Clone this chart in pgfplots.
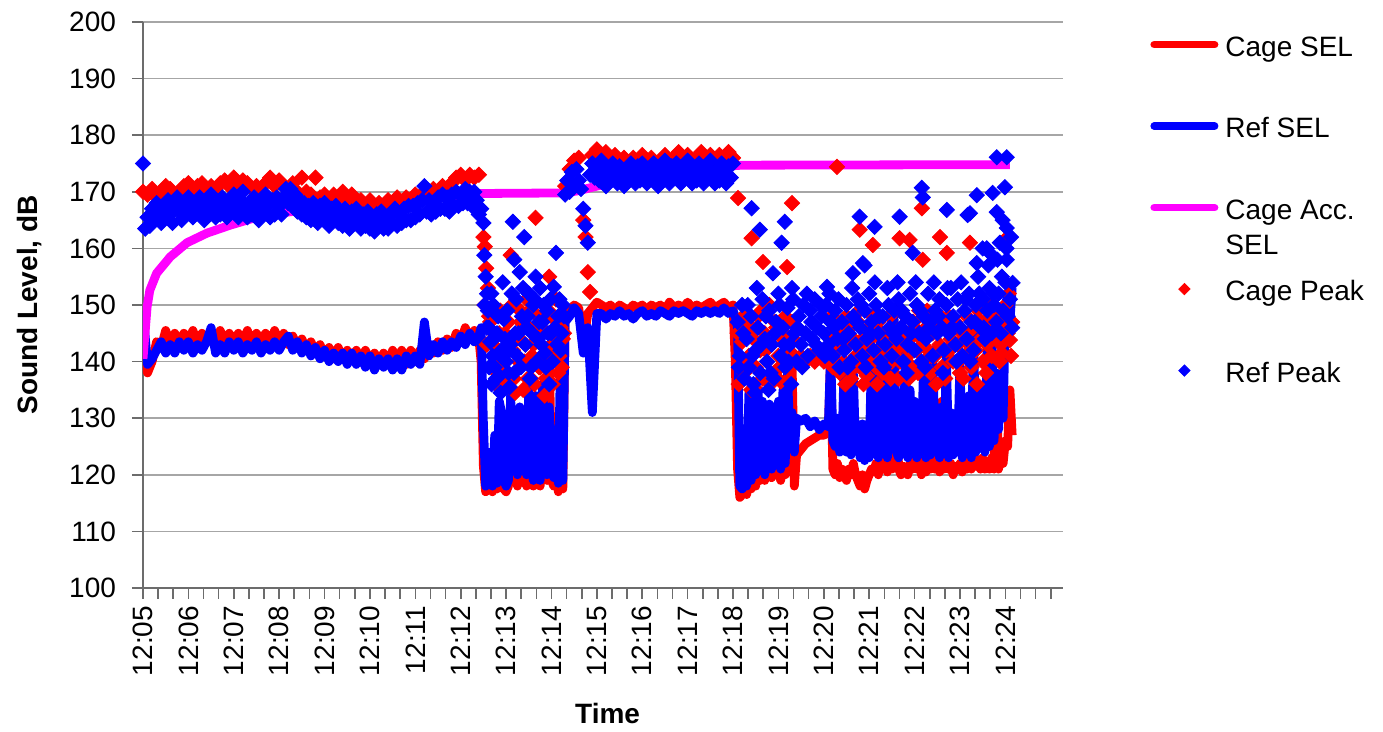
\documentclass[border=0pt]{standalone}
\usepackage{fontspec}
\setmainfont{Liberation Sans}
\usepackage{pgfplots}
\usepackage{pgfplotstable}
\pgfplotsset{compat=1.18}
\definecolor{selred}{RGB}{255,0,0}
\definecolor{selblue}{RGB}{0,0,255}
\definecolor{selmag}{RGB}{255,0,255}

% SEL lines: t = minutes after 12:05
\pgfplotstableread{
t cs rs
0.0 141.0 149.0
0.1 138.0 139.5
0.2 140.0 140.5
0.3 143.5 142.0
0.4 142.5 143.5
0.5 145.5 141.5
0.6 143.0 143.0
0.7 145.0 141.5
0.8 143.0 143.5
0.9 145.0 142.0
1.0 143.5 143.5
1.1 145.5 141.5
1.2 143.0 143.0
1.3 145.0 142.0
1.4 143.5 143.5
1.5 145.0 146.0
1.6 143.0 141.5
1.7 145.5 143.0
1.8 143.5 141.5
1.9 145.0 143.5
2.0 143.0 142.0
2.1 145.0 143.5
2.2 143.5 141.5
2.3 145.5 143.0
2.4 143.0 142.0
2.5 145.0 143.5
2.6 143.5 141.5
2.7 145.0 143.0
2.8 143.0 142.0
2.9 145.5 143.5
3.0 143.5 142.0
3.1 145.0 143.5
3.2 143.0 144.5
3.3 144.5 142.0
3.4 142.5 143.5
3.5 144.0 141.5
3.6 142.0 143.0
3.7 143.5 141.0
3.8 141.5 142.5
3.9 143.0 140.5
4.0 141.0 142.0
4.1 142.5 140.0
4.2 140.5 141.5
4.3 142.5 140.0
4.4 140.5 141.5
4.5 142.0 139.5
4.6 140.5 141.5
4.7 142.0 139.5
4.8 140.0 141.0
4.9 142.0 139.0
5.0 140.0 141.0
5.1 141.5 138.5
5.2 139.5 140.5
5.3 141.5 139.0
5.4 139.5 140.5
5.5 142.0 138.5
5.6 140.0 140.5
5.7 142.0 138.5
5.8 139.5 141.0
5.9 142.0 139.5
6.0 140.0 141.0
6.1 142.0 139.5
6.2 140.5 147.0
6.3 143.0 141.0
6.4 141.5 143.0
6.5 143.5 141.5
6.6 142.0 143.5
6.7 144.0 142.0
6.8 142.5 143.5
6.9 145.0 142.5
7.0 143.5 144.5
7.1 146.0 143.0
7.2 144.0 145.0
7.3 145.5 143.5
7.4 144.0 144.5
7.45 140.0 146.0
7.50 121.5 129.0
7.55 117.0 118.0
7.60 117.5 118.5
7.65 118.0 124.0
7.70 117.0 118.0
7.75 119.0 127.0
7.80 117.5 118.5
7.85 122.0 133.0
7.90 120.0 131.0
7.95 117.5 119.0
8.00 117.0 118.0
8.05 118.0 119.0
8.10 123.0 134.0
8.15 120.0 121.0
8.20 121.0 130.0
8.25 118.0 120.0
8.30 125.0 132.0
8.35 119.0 121.0
8.40 122.0 131.0
8.45 118.0 120.0
8.50 126.0 135.0
8.55 120.0 122.0
8.60 118.0 119.0
8.65 124.0 134.0
8.70 121.0 124.0
8.75 118.0 119.0
8.80 128.0 136.0
8.85 122.0 126.0
8.90 119.0 120.0
8.95 143.0 132.0
9.00 119.0 121.0
9.05 118.0 119.5
9.10 126.0 128.0
9.15 117.0 118.5
9.20 119.0 141.0
9.25 117.5 119.0
9.30 147.5 147.0
9.40 149.0 148.0
9.50 150.0 149.5
9.60 149.5 148.5
9.70 143.0 141.5
9.80 148.5 146.0
9.90 149.5 131.0
10.00 150.5 148.5
10.10 150.0 148.5
10.20 149.5 147.5
10.30 150.0 148.5
10.40 149.0 148.0
10.50 150.0 149.0
10.60 149.5 148.0
10.70 149.0 148.5
10.80 150.0 147.5
10.90 149.5 148.5
11.00 150.0 149.0
11.10 149.0 148.0
11.20 150.0 148.5
11.30 149.5 148.0
11.40 150.0 149.0
11.50 149.0 148.5
11.60 150.5 148.0
11.70 149.5 149.0
11.80 150.0 148.5
11.90 149.5 149.0
12.00 150.5 148.5
12.10 149.5 148.0
12.20 150.0 149.0
12.30 149.5 148.5
12.40 150.0 149.0
12.50 150.5 148.5
12.60 149.5 149.0
12.70 150.0 148.5
12.80 150.5 149.5
12.90 149.5 148.5
13.00 150.0 149.0
13.05 140.0 148.0
13.10 121.0 146.0
13.15 116.0 118.0
13.20 116.5 117.5
13.25 119.0 127.0
13.30 116.5 118.0
13.35 122.0 134.5
13.40 117.5 119.0
13.45 121.0 134.0
13.50 118.0 120.0
13.55 123.0 135.0
13.60 119.0 121.0
13.65 124.0 133.0
13.70 119.0 120.0
13.75 121.0 128.0
13.80 120.0 132.5
13.85 119.5 121.0
13.90 122.0 132.0
13.95 120.0 122.0
14.00 121.0 133.0
14.05 119.0 121.0
14.10 124.0 135.0
14.15 120.0 122.0
14.20 131.0 138.0
14.25 122.0 127.0
14.30 140.0 131.0
14.35 118.0 124.0
14.40 123.5 130.0
14.50 124.5 129.5
14.60 125.5 130.0
14.70 126.0 128.5
14.80 126.5 129.5
14.90 127.0 128.0
15.00 127.0 129.0
15.10 127.5 128.5
15.15 141.0 142.0
15.20 121.0 126.0
15.25 120.0 125.0
15.30 122.0 130.0
15.35 119.5 124.0
15.40 121.0 125.0
15.45 120.0 140.0
15.50 119.0 124.0
15.55 121.0 126.0
15.60 120.0 123.5
15.65 122.0 138.0
15.70 120.0 124.5
15.75 119.0 128.0
15.80 118.0 123.0
15.85 120.0 129.0
15.90 117.5 122.5
15.95 119.0 127.0
16.00 120.0 123.0
16.05 121.0 141.0
16.10 120.5 124.0
16.15 122.0 132.0
16.20 120.0 123.0
16.25 123.0 145.0
16.30 121.0 124.0
16.35 122.0 134.0
16.40 120.5 123.0
16.45 124.0 144.0
16.50 121.0 125.0
16.55 122.0 147.5
16.60 130.0 124.0
16.65 121.0 123.0
16.70 120.0 130.0
16.75 121.5 124.0
16.80 121.0 143.0
16.85 120.0 123.0
16.90 122.0 135.0
16.95 121.0 124.0
17.00 123.0 133.0
17.05 121.0 123.0
17.10 128.0 131.0
17.15 120.0 124.0
17.20 121.0 140.0
17.25 120.5 123.0
17.30 122.0 129.0
17.35 121.0 123.5
17.40 123.0 142.0
17.45 121.0 124.0
17.50 122.0 130.0
17.55 120.5 123.0
17.60 133.0 132.0
17.65 121.0 124.0
17.70 123.0 141.0
17.75 121.0 123.0
17.80 122.0 131.0
17.85 120.0 123.5
17.90 121.5 129.0
17.95 121.0 124.0
18.00 122.0 140.0
18.05 120.5 123.0
18.10 122.0 131.0
18.15 121.0 124.0
18.20 131.0 134.0
18.25 121.0 123.0
18.30 124.0 145.0
18.35 121.5 124.0
18.40 122.0 135.0
18.45 121.0 125.0
18.50 123.0 134.0
18.55 121.0 124.0
18.60 122.0 143.0
18.65 121.0 125.0
18.70 123.0 147.0
18.75 121.0 126.0
18.80 138.0 138.0
18.85 121.0 128.0
18.90 124.0 136.0
18.95 122.0 130.0
19.00 126.0 148.0
19.05 125.0 152.0
19.10 135.0 147.0
19.15 127.0 153.0
}\sellines

% accumulated cage SEL
\pgfplotstableread{
t v
0.00 140.5
0.09 149.6
0.15 152.6
0.30 155.6
0.60 158.5
0.97 161.0
1.41 162.7
1.92 164.1
2.42 165.3
3.02 166.2
3.52 166.8
4.00 167.2
5.00 167.9
5.50 168.3
6.00 168.6
7.00 169.3
7.45 169.7
9.30 169.8
9.60 170.2
10.00 171.0
10.50 171.9
11.00 172.6
11.50 173.3
12.00 173.8
12.50 174.3
13.00 174.6
13.20 174.7
19.10 174.8
}\accsel

% cage peak
\pgfplotstableread{
t v
0.0 170.0
0.1 169.5
0.2 170.5
0.3 169.0
0.4 170.0
0.5 171.0
0.6 170.5
0.7 169.5
0.8 170.0
0.9 171.0
1.0 171.5
1.1 170.5
1.2 171.0
1.3 171.5
1.4 170.0
1.5 171.0
1.6 170.5
1.7 171.5
1.8 172.0
1.9 171.0
2.0 172.5
2.1 171.0
2.2 172.0
2.3 171.5
2.4 170.5
2.5 171.0
2.6 170.0
2.7 171.5
2.8 172.5
2.9 171.0
3.0 172.0
3.1 171.0
3.2 170.5
3.3 171.5
3.4 170.0
3.5 172.5
3.6 170.0
3.7 169.5
3.8 172.5
3.9 169.0
4.0 169.5
4.1 168.5
4.2 169.5
4.3 169.0
4.4 170.0
4.5 168.5
4.6 169.5
4.7 168.0
4.8 168.5
4.9 167.5
5.0 168.5
5.1 167.5
5.2 168.0
5.3 167.5
5.4 168.5
5.5 168.0
5.6 169.0
5.7 168.0
5.8 169.0
5.9 168.5
6.0 169.5
6.1 169.0
6.2 170.0
6.3 169.5
6.4 170.5
6.5 170.0
6.6 171.0
6.7 170.5
6.8 171.5
6.9 172.5
7.0 173.0
7.1 172.0
7.2 173.0
7.3 172.5
7.4 173.0
7.50 162.0
7.53 160.3
7.56 156.5
7.60 153.0
7.65 147.0
7.70 143.0
7.75 149.0
7.80 140.0
7.85 145.0
7.90 136.0
7.95 141.0
8.00 138.0
8.05 147.0
8.10 158.8
8.15 142.0
8.20 134.5
8.25 149.5
8.30 144.0
8.40 140.0
8.45 151.0
8.50 146.0
8.55 137.0
8.60 143.0
8.65 165.4
8.70 148.0
8.75 139.0
8.80 145.5
8.85 134.0
8.90 141.0
8.95 155.0
9.00 148.5
9.05 142.0
9.10 151.0
9.15 138.0
9.20 146.0
9.25 144.0
7.525 150.0
7.575 143.0
7.625 148.0
7.675 139.0
7.725 145.0
7.775 136.0
7.825 142.0
7.875 149.0
7.925 139.0
7.975 145.0
8.025 136.0
8.075 143.0
8.125 150.0
8.175 137.0
8.225 144.0
8.275 140.0
8.325 147.0
8.375 135.0
8.425 143.0
8.475 137.0
8.525 149.0
8.575 141.0
8.625 136.0
8.675 144.0
8.725 139.0
8.775 146.0
8.825 140.0
8.875 137.0
8.925 148.0
8.975 141.0
9.025 136.0
9.075 144.0
9.125 147.0
9.175 141.0
9.225 139.0
9.275 145.0
9.30 171.0
9.40 174.0
9.50 175.5
9.60 176.0
9.70 165.0
9.75 162.0
9.80 155.8
9.85 152.3
9.90 176.5
10.0 177.5
10.1 176.0
10.2 177.0
10.3 175.5
10.4 176.5
10.5 175.0
10.6 176.0
10.7 174.5
10.8 176.0
10.9 175.0
11.0 176.5
11.1 175.0
11.2 176.0
11.3 174.5
11.4 175.5
11.5 176.5
11.6 175.0
11.7 176.0
11.8 177.0
11.9 175.5
12.0 176.5
12.1 175.0
12.2 176.0
12.3 177.0
12.4 175.5
12.5 176.5
12.6 175.0
12.7 176.5
12.8 175.5
12.9 177.0
13.0 176.0
13.10 145.0
13.15 140.0
13.20 143.5
13.25 138.0
13.30 146.0
13.35 141.0
13.40 135.0
13.45 144.0
13.50 139.0
13.55 148.0
13.60 142.0
13.65 137.0
13.70 145.0
13.75 140.0
13.80 150.0
13.85 143.0
13.90 138.0
13.95 146.0
14.00 141.0
14.05 136.5
14.10 144.0
14.15 148.0
14.20 142.0
14.25 139.0
14.30 147.0
14.35 141.0
14.40 140.5
14.45 140.5
14.50 141.0
14.55 140.5
14.60 140.0
14.65 140.5
14.70 141.0
14.75 140.5
14.80 140.0
14.85 140.5
14.90 141.0
14.95 140.5
15.00 140.0
15.05 140.5
15.10 141.0
15.15 144.0
15.20 139.0
15.25 146.0
15.30 142.0
15.35 138.0
15.40 145.0
15.45 140.0
15.50 148.0
15.55 143.0
15.60 137.0
15.65 144.0
15.70 141.0
15.75 147.0
15.80 139.0
15.85 144.0
15.90 142.0
15.95 137.5
16.00 146.0
16.05 141.0
16.10 144.5
16.15 139.0
16.20 147.0
16.25 142.0
16.30 138.0
16.35 145.0
16.40 143.0
16.45 148.0
16.50 140.0
16.55 145.0
16.60 142.0
16.65 137.0
16.70 146.0
16.75 143.0
16.80 148.0
16.85 141.0
16.90 144.0
16.95 139.0
17.00 146.0
17.05 142.0
17.10 149.0
17.15 144.0
17.20 140.0
17.25 146.0
17.30 142.0
17.35 138.0
17.40 145.0
17.45 141.0
17.50 147.0
17.55 143.0
17.60 139.0
17.65 146.0
17.70 142.0
17.75 148.0
17.80 144.0
17.85 140.0
17.90 147.0
17.95 143.0
18.00 138.0
18.05 145.0
18.10 141.0
18.15 148.0
18.20 143.0
18.25 139.0
18.30 146.0
18.35 142.0
18.40 149.0
18.45 144.0
18.50 140.0
18.55 147.0
18.60 143.0
18.65 146.0
18.70 141.0
18.75 148.0
18.80 144.0
18.85 149.0
18.90 143.0
18.95 146.0
19.00 150.0
19.05 145.0
19.10 143.8
19.15 147.0
13.125 136.0
13.225 148.0
13.325 139.0
13.425 146.0
13.525 135.0
13.625 149.0
13.725 142.0
13.825 136.0
13.925 147.0
14.025 139.0
14.125 145.0
14.225 137.0
14.325 144.0
15.175 148.0
15.275 140.0
15.375 143.0
15.475 136.0
15.575 146.0
15.675 139.0
15.775 149.0
15.875 136.0
15.975 143.0
16.075 148.0
16.175 136.0
16.275 145.0
16.375 140.0
16.475 137.0
16.575 149.0
16.675 140.0
16.775 145.0
16.875 137.0
16.975 147.0
17.075 138.0
17.175 143.0
17.275 149.0
17.375 141.0
17.475 136.0
17.575 148.0
17.675 137.0
17.775 142.0
17.875 146.0
17.975 140.0
18.075 137.0
18.175 145.0
18.275 142.0
18.375 136.0
18.475 147.0
18.575 138.0
18.675 150.0
18.775 146.0
18.875 140.0
18.975 148.0
19.075 152.0
19.125 141.0
13.11 168.9
14.30 168.0
13.41 161.8
13.66 157.6
14.19 156.7
15.29 174.4
15.79 163.3
16.08 160.6
16.67 161.8
16.89 161.5
17.16 167.1
17.56 162.0
17.71 159.2
17.18 158.0
18.22 161.0
19.03 161.8
18.92 141.5
}\cagepeak

% ref peak
\pgfplotstableread{
t v
0.00 175.0
0.05 163.5
0.10 165.5
0.15 164.0
0.20 167.0
0.25 165.0
0.30 168.0
0.35 166.0
0.40 164.5
0.45 167.5
0.50 165.5
0.55 168.5
0.60 166.0
0.65 164.5
0.70 167.0
0.75 169.0
0.80 166.5
0.85 165.0
0.90 168.0
0.95 166.0
1.00 169.0
1.05 167.0
1.10 165.5
1.15 168.0
1.20 166.5
1.25 169.0
1.30 167.0
1.35 165.0
1.40 168.5
1.45 166.5
1.50 169.5
1.55 167.5
1.60 165.5
1.65 168.0
1.70 166.0
1.75 169.0
1.80 167.0
1.85 165.5
1.90 168.5
1.95 166.5
2.00 169.5
2.05 167.5
2.10 165.5
2.15 168.5
2.20 170.0
2.25 167.0
2.30 165.5
2.35 168.0
2.40 166.0
2.45 169.0
2.50 167.0
2.55 165.0
2.60 168.0
2.65 166.5
2.70 169.5
2.75 167.5
2.80 165.5
2.85 168.5
2.90 166.0
2.95 169.0
3.00 167.5
3.05 166.0
3.10 169.0
3.15 170.5
3.20 168.0
3.25 170.5
3.30 167.5
3.35 169.5
3.40 166.5
3.45 168.5
3.50 166.0
3.55 168.0
3.60 165.5
3.65 167.5
3.70 165.0
3.75 168.0
3.80 166.0
3.85 164.5
3.90 167.5
3.95 165.5
4.00 168.0
4.05 166.0
4.10 164.0
4.15 167.0
4.20 165.0
4.25 167.5
4.30 164.5
4.35 166.5
4.40 164.0
4.45 167.0
4.50 165.0
4.55 163.5
4.60 166.5
4.65 164.5
4.70 167.0
4.75 165.0
4.80 163.5
4.85 166.0
4.90 164.0
4.95 166.5
5.00 163.5
5.05 165.5
5.10 163.0
5.15 166.0
5.20 164.0
5.25 166.5
5.30 163.5
5.35 165.5
5.40 163.5
5.45 166.0
5.50 164.5
5.55 167.0
5.60 164.0
5.65 166.0
5.70 164.5
5.75 167.0
5.80 165.0
5.85 167.5
5.90 165.0
5.95 167.5
6.00 165.5
6.05 168.0
6.10 166.0
6.15 168.5
6.20 171.0
6.25 166.5
6.30 168.5
6.35 166.0
6.40 168.0
6.45 166.5
6.50 169.0
6.55 167.0
6.60 169.5
6.65 167.0
6.70 169.0
6.75 166.5
6.80 169.5
6.85 167.5
6.90 170.0
6.95 167.5
7.00 169.5
7.05 168.0
7.10 170.5
7.15 168.0
7.20 170.0
7.25 167.5
7.30 170.0
7.35 168.5
7.40 166.0
7.45 167.0
7.50 164.5
7.52 158.8
7.55 155.0
7.58 152.0
7.60 149.0
7.62 146.0
7.65 143.5
7.68 136.0
7.70 141.0
7.72 150.0
7.75 139.0
7.80 145.0
7.85 137.5
7.88 134.5
7.90 142.0
7.95 147.5
8.00 140.0
8.05 138.0
8.08 135.5
8.10 143.0
8.15 164.7
8.18 158.0
8.20 145.0
8.25 141.0
8.30 155.8
8.35 148.0
8.40 162.0
8.45 146.0
8.50 152.0
8.55 139.0
8.60 150.0
8.65 155.0
8.70 144.0
8.75 153.0
8.80 147.0
8.85 141.5
8.90 149.0
8.95 136.0
9.00 145.0
9.05 153.2
9.10 159.2
9.15 148.0
9.20 142.0
9.25 150.0
7.525 150.0
7.575 146.0
7.625 139.0
7.675 152.0
7.725 144.0
7.775 137.0
7.825 148.0
7.875 141.0
7.925 154.0
7.975 144.0
8.025 149.0
8.075 142.0
8.125 152.0
8.175 138.0
8.225 151.0
8.275 145.0
8.325 139.0
8.375 153.0
8.425 143.0
8.475 148.0
8.525 137.0
8.575 145.0
8.625 151.0
8.675 140.0
8.725 147.0
8.775 143.0
8.825 150.0
8.875 139.0
8.925 145.0
8.975 151.0
9.025 140.0
9.075 146.0
9.125 143.0
9.175 151.0
9.225 145.0
9.275 148.0
9.30 169.5
9.35 172.0
9.40 170.0
9.45 173.5
9.50 171.0
9.55 174.0
9.60 172.0
9.65 170.5
9.70 167.0
9.75 164.0
9.80 161.0
9.85 173.0
9.90 175.0
9.95 172.5
10.00 174.5
10.05 172.0
10.10 175.5
10.15 173.0
10.20 171.0
10.25 174.0
10.30 172.0
10.35 175.0
10.40 173.0
10.45 171.5
10.50 174.5
10.55 172.5
10.60 171.0
10.65 174.0
10.70 172.0
10.75 175.0
10.80 173.0
10.85 171.5
10.90 174.5
10.95 172.0
11.00 175.0
11.05 173.0
11.10 171.5
11.15 174.0
11.20 172.5
11.25 175.0
11.30 173.0
11.35 171.0
11.40 174.0
11.45 172.0
11.50 175.5
11.55 173.0
11.60 171.5
11.65 174.5
11.70 172.5
11.75 175.0
11.80 173.0
11.85 171.5
11.90 174.5
11.95 172.5
12.00 175.5
12.05 173.0
12.10 171.5
12.15 174.0
12.20 172.0
12.25 175.0
12.30 173.5
12.35 171.5
12.40 174.5
12.45 172.5
12.50 175.5
12.55 173.0
12.60 171.5
12.65 174.0
12.70 172.0
12.75 175.0
12.80 173.0
12.85 171.5
12.90 174.5
12.95 172.5
13.00 175.0
13.10 147.0
13.15 141.0
13.20 150.0
13.25 137.0
13.30 144.0
13.35 139.0
13.40 148.0
13.45 136.0
13.48 134.5
13.50 142.0
13.55 146.0
13.60 138.0
13.65 151.0
13.70 144.0
13.75 140.0
13.78 135.0
13.80 149.0
13.85 143.0
13.90 137.0
13.95 147.0
14.00 152.0
14.05 141.0
14.10 146.0
14.15 139.0
14.20 149.5
14.25 143.0
14.28 136.0
14.30 153.0
14.35 145.0
14.40 140.0
14.45 148.0
14.50 143.0
14.55 150.0
14.60 145.0
14.65 141.0
14.70 149.0
14.75 144.0
14.80 151.0
14.85 146.0
14.90 142.0
14.95 148.0
15.00 145.0
15.05 150.0
15.10 143.0
15.15 147.0
15.20 141.0
15.25 149.0
15.30 144.0
15.35 139.0
15.40 147.0
15.45 142.0
15.50 150.0
15.55 145.0
15.60 140.0
15.65 148.0
15.70 143.0
15.75 151.0
15.80 146.0
15.85 141.0
15.90 149.0
15.95 144.0
16.00 152.0
16.05 147.0
16.10 142.0
16.15 150.0
16.20 145.0
16.25 140.0
16.30 148.0
16.35 143.0
16.40 153.0
16.45 146.0
16.50 141.0
16.55 149.0
16.60 144.0
16.65 151.0
16.70 146.0
16.75 140.0
16.80 148.0
16.85 143.0
16.90 152.0
16.95 147.0
17.00 142.0
17.05 150.0
17.10 145.0
17.15 140.0
17.20 148.0
17.25 144.0
17.30 152.0
17.35 147.0
17.40 141.0
17.45 149.0
17.50 145.0
17.55 151.0
17.60 146.0
17.65 142.0
17.70 150.0
17.75 145.0
17.80 153.0
17.85 148.0
17.90 143.0
17.95 151.0
18.00 146.0
18.05 141.0
18.10 149.0
18.15 144.0
18.20 152.0
18.25 147.0
18.30 142.0
18.35 150.0
18.40 155.0
18.45 146.0
18.50 151.0
18.55 144.0
18.60 149.0
18.65 153.0
18.70 145.0
18.75 150.0
18.80 147.0
18.85 152.0
18.90 145.0
18.95 149.0
19.00 154.0
19.05 148.0
19.10 151.0
19.15 146.0
13.125 139.0
13.225 145.0
13.325 150.0
13.425 141.0
13.525 153.0
13.625 143.0
13.725 148.0
13.825 138.0
13.925 145.0
14.025 150.0
14.125 143.0
14.225 140.0
14.325 151.0
14.425 146.0
14.525 139.0
14.625 152.0
14.725 147.0
14.825 143.0
14.925 150.0
15.025 141.0
15.125 152.0
15.225 146.0
15.325 151.0
15.425 144.0
15.525 139.0
15.625 153.0
15.725 147.0
15.825 150.0
15.925 139.0
16.025 145.0
16.125 154.0
16.225 148.0
16.325 139.0
16.425 150.0
16.525 145.0
16.625 154.0
16.725 149.0
16.825 138.0
16.925 145.0
17.025 154.0
17.125 149.0
17.225 139.0
17.325 146.0
17.425 154.0
17.525 148.0
17.625 138.0
17.725 153.0
17.825 146.0
17.925 140.0
18.025 154.0
18.125 151.0
18.225 140.0
18.325 147.0
18.425 152.0
18.525 146.0
18.625 157.0
18.725 152.0
18.825 158.0
18.925 155.0
19.025 160.0
19.125 162.0
13.41 167.1
13.59 163.3
14.14 164.7
14.07 161.0
13.88 155.6
15.79 165.6
16.12 163.8
15.90 157.0
15.64 155.6
15.07 153.2
16.67 165.6
16.96 159.2
17.16 170.7
17.18 169.0
17.71 166.8
18.22 166.2
18.37 169.4
18.17 165.9
18.37 157.4
18.50 160.0
18.68 159.0
18.81 176.1
19.03 176.1
18.99 170.8
18.72 169.8
18.81 166.4
18.94 165.0
19.03 163.6
18.59 160.0
18.88 161.0
19.03 158.0
19.16 153.9
15.86 157.4
}\refpeak

\begin{document}
\begin{tikzpicture}[font=\fontsize{14}{17.5}\selectfont]
\useasboundingbox (-71.5pt,-72pt) rectangle (620pt,294pt);
\begin{axis}[
    scale only axis,
    width=460pt, height=283pt,
    xmin=0, xmax=20.27,
    ymin=100, ymax=200,
    axis x line*=bottom, axis y line*=left,
    axis line style={draw=gray!85!black, line width=0.8pt, -},
    ytick={100,110,...,200},
    xtick={0,1,...,20},
    xticklabels={12:05,12:06,12:07,12:08,12:09,12:10,12:11,12:12,12:13,12:14,12:15,12:16,12:17,12:18,12:19,12:20,12:21,12:22,12:23,12:24,{}},
    minor x tick num=2,
    tick align=outside,
    major tick length=5.5pt, minor tick length=5.5pt,
    tick style={gray!85!black, line width=0.8pt},
    ymajorgrids,
    grid style={gray!70, line width=0.8pt},
    /pgf/number format/assume math mode=true,
    yticklabel style={xshift=-4.5pt},
    xticklabel style={rotate=90, anchor=east},
    xlabel={\bfseries Time},
    ylabel={\bfseries Sound Level, dB},
    xlabel style={at={(axis description cs:0.505,-0.2226)}, anchor=center},
    ylabel style={at={(axis description cs:-0.1228,0.5)}, anchor=center},
    legend style={draw=none, fill=none, at={(axis description cs:1,1)},
        anchor=north west, xshift=43.5pt, yshift=-4.75pt,
        inner sep=0pt, row sep=27pt, column sep=3.5pt,
        cells={anchor=base west}, nodes={inner sep=0pt}},
    sellegend/.style={legend image code/.code={
        \draw[##1, line width=3.8pt, line cap=round] (1.9pt,5.9pt) -- (32.1pt,5.9pt);}},
    pklegend/.style={legend image code/.code={
        \draw[##1, mark size=2pt] plot coordinates {(17pt,5.9pt)};}},
]
\addplot[selred, line width=4.4pt, line join=round, sellegend] table[x=t, y=cs] {\sellines};
\addlegendentry{Cage SEL\strut}
\addplot[selblue, line width=4.4pt, line join=round, sellegend] table[x=t, y=rs] {\sellines};
\addlegendentry{Ref SEL\strut}
\addplot[selmag, line width=4.4pt, line join=round, sellegend] table[x=t, y=v] {\accsel};
\addlegendentry{\raisebox{0pt}[\height][\dp\strutbox]{\begin{tabular}[t]{@{}l@{}}Cage Acc.\\SEL\end{tabular}}}
\addplot[only marks, mark=square*, mark size=2.7pt, mark options={rotate=45, draw=selred, fill=selred}, pklegend] table[x=t, y=v] {\cagepeak};
\addlegendentry{Cage Peak\strut}
\addplot[only marks, mark=square*, mark size=2.7pt, mark options={rotate=45, draw=selblue, fill=selblue}, pklegend] table[x=t, y=v] {\refpeak};
\addlegendentry{Ref Peak\strut}
\end{axis}
\end{tikzpicture}
\end{document}
